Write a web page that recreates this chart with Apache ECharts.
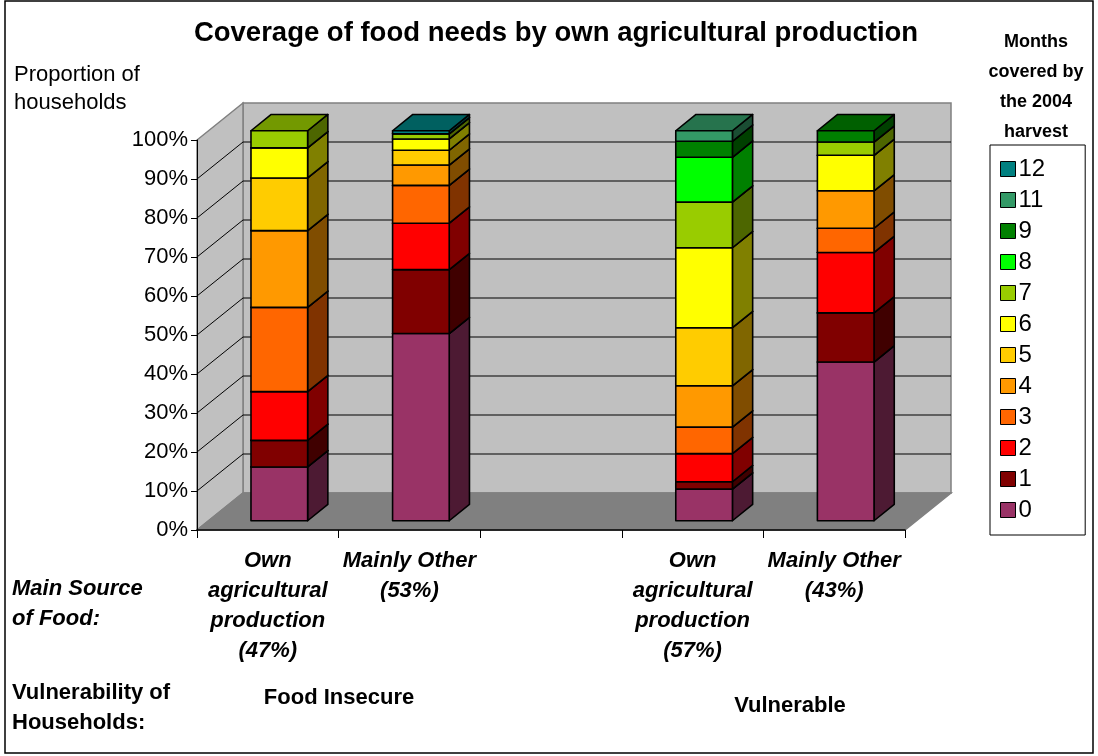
<!DOCTYPE html>
<html>
<head>
<meta charset="utf-8">
<script src="https://cdn.jsdelivr.net/npm/echarts@6/dist/echarts.min.js"></script>
<style>
  html, body { margin: 0; padding: 0; background: #fff; }
  #chart { width: 1098px; height: 756px; }
</style>
</head>
<body>
<div id="chart"></div>
<script>
// Household groups on the category axis (the middle slot is a spacer between the two groups)
const categories = [
  'Own\nagricultural\nproduction\n(47%)',
  'Mainly Other\n(53%)',
  '',
  'Own\nagricultural\nproduction\n(57%)',
  'Mainly Other\n(43%)'
];

// Months of food needs covered by the 2004 harvest
const monthNames = ['0', '1', '2', '3', '4', '5', '6', '7', '8', '9', '11', '12'];
const monthColors = ['#993366', '#800000', '#ff0000', '#ff6600', '#ff9900', '#ffcc00',
                     '#ffff00', '#99cc00', '#00ff00', '#008000', '#339966', '#008080'];

// Share of households (%) per group, one array per number of months
const months0  = [13.8, 48.0, null,  8.1, 40.7];
const months1  = [ 6.8, 16.4, null,  1.9, 12.6];
const months2  = [12.5, 11.9, null,  7.2, 15.5];
const months3  = [21.6,  9.7, null,  6.8,  6.2];
const months4  = [19.7,  5.2, null, 10.6,  9.6];
const months5  = [13.5,  3.8, null, 14.9,  0.0];
const months6  = [ 7.7,  2.9, null, 20.5,  9.1];
const months7  = [ 4.4,  1.3, null, 11.7,  3.4];
const months8  = [ 0.0,  0.0, null, 11.5,  0.0];
const months9  = [ 0.0,  0.0, null,  4.1,  2.9];
const months11 = [ 0.0,  0.0, null,  2.7,  0.0];
const months12 = [ 0.0,  0.8, null,  0.0,  0.0];
const shares = [months0, months1, months2, months3, months4, months5,
                months6, months7, months8, months9, months11, months12];

// Legend lists the largest number of months first
const legendOrder = monthNames.slice().reverse();

// Oblique depth of the 3D box (pixels for the full floor depth)
const DEPTH = [46, -37];
const BAR_FRONT = 0.25;
const BAR_BACK = 0.69;
const BAR_WIDTH = 0.4;

function shade(hex, k) {
  const n = parseInt(hex.slice(1), 16);
  const r = Math.round(((n >> 16) & 255) * k);
  const g = Math.round(((n >> 8) & 255) * k);
  const b = Math.round((n & 255) * k);
  return 'rgb(' + r + ',' + g + ',' + b + ')';
}

// Walls, floor and gridlines of the 3D plot box
function renderWalls(params, api) {
  const cs = params.coordSys;
  const L = cs.x, T = cs.y, R = cs.x + cs.width, B = cs.y + cs.height;
  const dx = DEPTH[0], dy = DEPTH[1];
  const edge = { stroke: '#808080', lineWidth: 1.5 };
  const children = [
    { type: 'rect', shape: { x: L + dx, y: T + dy, width: R - L, height: B - T },
      style: Object.assign({ fill: '#c0c0c0' }, edge) },
    { type: 'polygon', shape: { points: [[L, B], [L, T], [L + dx, T + dy], [L + dx, B + dy]] },
      style: Object.assign({ fill: '#c0c0c0' }, edge) },
    { type: 'polygon', shape: { points: [[L, B], [L + dx, B + dy], [R + dx, B + dy], [R, B]] },
      style: Object.assign({ fill: '#808080' }, edge) }
  ];
  for (let v = 10; v < 100; v += 10) {
    const y = api.coord([0, v])[1];
    children.push({ type: 'line', shape: { x1: L + dx, y1: y + dy, x2: R + dx, y2: y + dy },
      style: { stroke: '#000', lineWidth: 1 } });
    children.push({ type: 'line', shape: { x1: L, y1: y, x2: L + dx, y2: y + dy },
      style: { stroke: '#000', lineWidth: 1 } });
  }
  return { type: 'group', children: children };
}

// One stacked 3D block: front face, side face and top face
function makeBarRenderer(color) {
  return function (params, api) {
    const lo = api.value(1), hi = api.value(2);
    if (!(hi > lo)) return null;
    const cat = api.value(0);
    const w = api.size([1, 0])[0] * BAR_WIDTH;
    const a = api.coord([cat, lo]), b = api.coord([cat, hi]);
    const fx = DEPTH[0] * BAR_FRONT, fy = DEPTH[1] * BAR_FRONT;
    const bx = DEPTH[0] * (BAR_BACK - BAR_FRONT), by = DEPTH[1] * (BAR_BACK - BAR_FRONT);
    const x0 = a[0] - w / 2 + fx, x1 = x0 + w;
    const y0 = a[1] + fy, y1 = b[1] + fy;
    const line = { stroke: '#000', lineWidth: 1.6, lineJoin: 'round' };
    return {
      type: 'group',
      children: [
        { type: 'polygon',
          shape: { points: [[x1, y0], [x1 + bx, y0 + by], [x1 + bx, y1 + by], [x1, y1]] },
          style: Object.assign({ fill: shade(color, 0.5) }, line) },
        { type: 'polygon',
          shape: { points: [[x0, y1], [x1, y1], [x1 + bx, y1 + by], [x0 + bx, y1 + by]] },
          style: Object.assign({ fill: shade(color, 0.75) }, line) },
        { type: 'rect', shape: { x: x0, y: y1, width: w, height: y0 - y1 },
          style: Object.assign({ fill: color }, line) }
      ]
    };
  };
}

const stackBase = categories.map(() => 0);
const barSeries = monthNames.map((name, i) => {
  const data = shares[i].map((v, c) => {
    if (v == null) return [c, 0, 0];
    const lo = stackBase[c];
    stackBase[c] += v;
    return [c, lo, lo + v];
  });
  return {
    type: 'custom',
    name: name,
    renderItem: makeBarRenderer(monthColors[i]),
    data: data,
    encode: { x: 0, y: [1, 2] },
    itemStyle: { color: monthColors[i], borderColor: '#000', borderWidth: 1 },
    z: 3
  };
});

const FONT = '"Liberation Sans", Arial, sans-serif';

const chart = echarts.init(document.getElementById('chart'), null, { renderer: 'canvas' });
chart.setOption({
  backgroundColor: '#fff',
  animation: false,
  textStyle: { fontFamily: FONT, color: '#000' },
  grid: { left: 197, top: 140, right: 193, bottom: 226, containLabel: false },
  xAxis: {
    type: 'category',
    data: categories,
    z: 5,
    axisLine: { lineStyle: { color: '#000', width: 1.5 } },
    axisTick: { show: true, length: 8, lineStyle: { color: '#000', width: 1 } },
    axisLabel: {
      interval: 0, margin: 16, fontFamily: FONT, fontSize: 22,
      fontWeight: 'bold', fontStyle: 'italic', lineHeight: 30, color: '#000'
    },
    splitLine: { show: false }
  },
  yAxis: {
    type: 'value',
    min: 0, max: 100, interval: 10,
    z: 5,
    axisLine: { show: true, lineStyle: { color: '#000', width: 1 } },
    axisTick: { show: true, length: 6, lineStyle: { color: '#000' } },
    axisLabel: { formatter: '{value}%', fontFamily: FONT, fontSize: 22, color: '#000', margin: 9 },
    splitLine: { show: false }
  },
  legend: {
    data: legendOrder,
    orient: 'vertical',
    left: 990, top: 145,
    icon: 'rect',
    itemWidth: 15, itemHeight: 15, itemGap: 7,
    padding: [12, 40, 13, 10],
    borderColor: '#000', borderWidth: 1,
    itemStyle: { borderColor: '#000', borderWidth: 1 },
    textStyle: { fontFamily: FONT, fontSize: 24, color: '#000', padding: [0, 0, 0, -2] },
    selectedMode: false
  },
  graphic: [
    { type: 'rect', shape: { x: 5, y: 1, width: 1088, height: 752 },
      style: { fill: 'none', stroke: '#000', lineWidth: 1.5 }, z: 10 },
    { type: 'text', x: 556, y: 33,
      style: { text: 'Coverage of food needs by own agricultural production',
               font: 'bold 27.5px ' + FONT, align: 'center', verticalAlign: 'middle', fill: '#000' } },
    { type: 'text', x: 14, y: 61,
      style: { text: 'Proportion of\nhouseholds', font: '22px ' + FONT, lineHeight: 28, fill: '#000' } },
    { type: 'text', x: 1036, y: 27,
      style: { text: 'Months\ncovered by\nthe 2004\nharvest', font: 'bold 18px ' + FONT,
               lineHeight: 30, align: 'center', fill: '#000' } },
    { type: 'text', x: 12, y: 574,
      style: { text: 'Main Source\nof Food:', font: 'italic bold 22px ' + FONT, lineHeight: 30, fill: '#000' } },
    { type: 'text', x: 12, y: 678,
      style: { text: 'Vulnerability of\nHouseholds:', font: 'bold 22px ' + FONT, lineHeight: 30, fill: '#000' } },
    { type: 'text', x: 339, y: 683,
      style: { text: 'Food Insecure', font: 'bold 22px ' + FONT, lineHeight: 30, align: 'center', fill: '#000' } },
    { type: 'text', x: 790, y: 691,
      style: { text: 'Vulnerable', font: 'bold 22px ' + FONT, lineHeight: 30, align: 'center', fill: '#000' } }
  ],
  series: [
    { type: 'custom', name: 'walls', renderItem: renderWalls, data: [[0, 0]],
      encode: { x: 0, y: 1 }, silent: true, z: 1 }
  ].concat(barSeries)
});
</script>
</body>
</html>
